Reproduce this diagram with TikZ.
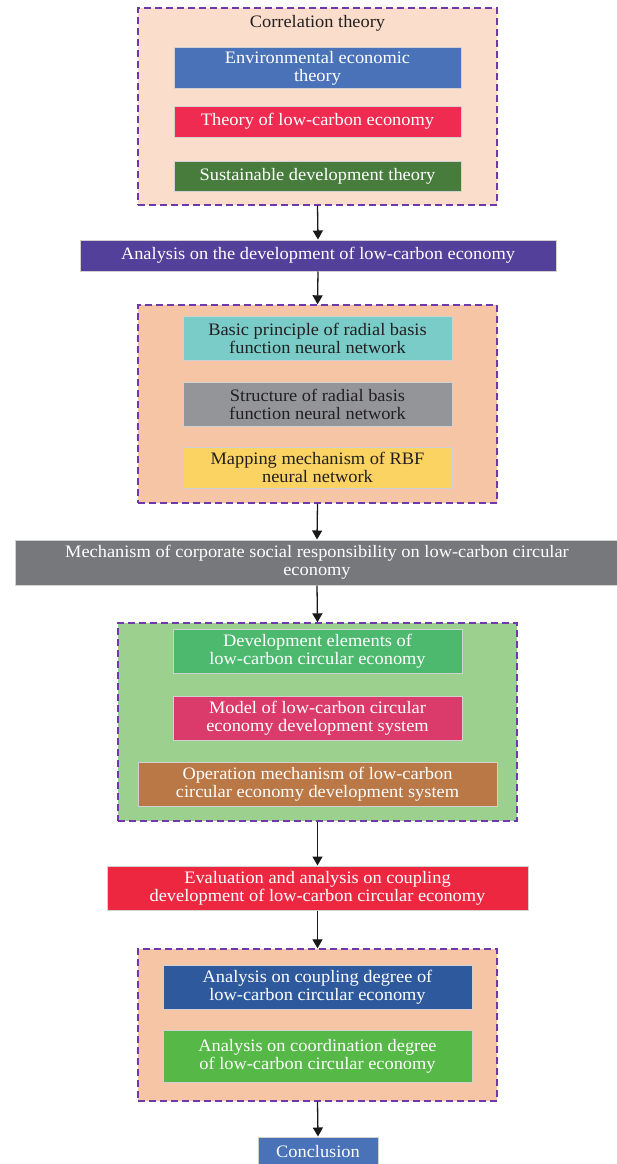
\documentclass[tikz,border=0pt]{standalone}
\usepackage{fontspec}
\setmainfont{Liberation Serif}[FakeStretch=1.05]
\usetikzlibrary{arrows.meta}
\definecolor{grpA}{RGB}{250,221,203}
\definecolor{grpB}{RGB}{246,197,165}
\definecolor{grpC}{RGB}{156,208,143}
\definecolor{dashc}{RGB}{112,56,170}
\definecolor{cBlue}{RGB}{74,114,184}
\definecolor{cRed}{RGB}{239,43,81}
\definecolor{cDGreen}{RGB}{71,124,60}
\definecolor{cPurple}{RGB}{83,64,154}
\definecolor{cCyan}{RGB}{122,204,200}
\definecolor{cGray}{RGB}{147,149,152}
\definecolor{cYellow}{RGB}{250,211,98}
\definecolor{cDGray}{RGB}{119,120,123}
\definecolor{cGreen}{RGB}{77,185,111}
\definecolor{cPink}{RGB}{219,59,106}
\definecolor{cBrown}{RGB}{186,120,71}
\definecolor{cRed2}{RGB}{238,39,65}
\definecolor{cBlue2}{RGB}{46,90,157}
\definecolor{cGreen2}{RGB}{85,184,71}
\definecolor{txtdark}{RGB}{35,31,32}
\begin{document}
\begin{tikzpicture}[x=1pt,y=-1pt,
  grp/.style={draw=dashc,line width=1.4pt,dash pattern=on 7pt off 4pt,inner sep=0pt,rectangle},
  box/.style={draw=black!18,line width=1pt,inner sep=0pt,rectangle,align=center,text=white,
    font=\fontsize{17.5}{18}\selectfont},
  dbox/.style={box,text=txtdark},
  arr/.style={line width=1.3pt,draw=black!90,-{Triangle[length=9pt,width=10pt]}}]
\useasboundingbox (0,0) rectangle (617,1164);
% group 1
\node[grp,fill=grpA,minimum width=359pt,minimum height=197pt] (g1) at (317.5,106.5) {};
\node[text=txtdark,font=\fontsize{17.5}{18}\selectfont] (t1) at (317.5,23) {Correlation theory};
\node[box,fill=cBlue,minimum width=287pt,minimum height=40pt] (b11) at (317.5,68) {Environmental economic\\theory};
\node[box,fill=cRed,minimum width=287pt,minimum height=31pt] (b12) at (317.5,121.5) {Theory of low-carbon economy};
\node[box,fill=cDGreen,minimum width=287pt,minimum height=30pt] (b13) at (317.5,176) {Sustainable development theory};
% purple
\node[box,fill=cPurple,minimum width=476pt,minimum height=31pt] (p) at (318,255.5) {Analysis on the development of low-carbon economy};
% group 2
\node[grp,fill=grpB,minimum width=359pt,minimum height=198pt] (g2) at (317.5,404) {};
\node[dbox,fill=cCyan,minimum width=269pt,minimum height=44pt] (b21) at (317.5,338) {Basic principle of radial basis\\function neural network};
\node[dbox,fill=cGray,minimum width=269pt,minimum height=44pt] (b22) at (317.5,404) {Structure of radial basis\\function neural network};
\node[dbox,fill=cYellow,minimum width=269pt,minimum height=41pt] (b23) at (317.5,467.5) {Mapping mechanism of RBF\\neural network};
% gray wide
\node[box,fill=cDGray,minimum width=604pt,minimum height=45pt] (m) at (317,562.5) {Mechanism of corporate social responsibility on low-carbon circular\\economy};
% group 3
\node[grp,fill=grpC,minimum width=399pt,minimum height=198pt] (g3) at (317.5,722) {};
\node[box,fill=cGreen,minimum width=289pt,minimum height=44pt] (b31) at (317.5,651) {Development elements of\\low-carbon circular economy};
\node[box,fill=cPink,minimum width=289pt,minimum height=44pt] (b32) at (317.5,718) {Model of low-carbon circular\\economy development system};
\node[box,fill=cBrown,minimum width=359pt,minimum height=44pt] (b33) at (317.5,784) {Operation mechanism of low-carbon\\circular economy development system};
% red
\node[box,fill=cRed2,minimum width=421pt,minimum height=44pt] (e) at (317.5,888) {Evaluation and analysis on coupling\\development of low-carbon circular economy};
% group 4
\node[grp,fill=grpB,minimum width=359pt,minimum height=152pt] (g4) at (317.5,1025) {};
\node[box,fill=cBlue2,minimum width=309pt,minimum height=44pt] (b41) at (317.5,987) {Analysis on coupling degree of\\low-carbon circular economy};
\node[box,fill=cGreen2,minimum width=309pt,minimum height=52pt] (b42) at (317.5,1056) {Analysis on coordination degree\\of low-carbon circular economy};
% conclusion
\node[box,fill=cBlue,minimum width=120pt,minimum height=28pt] (c) at (318,1151) {Conclusion};
% arrows
\draw[arr] (g1.south) -- (p.north);
\draw[arr] (p.south) -- (g2.north);
\draw[arr] (g2.south) -- (m.north);
\draw[arr] (m.south) -- (g3.north);
\draw[arr] (g3.south) -- (e.north);
\draw[arr] (e.south) -- (g4.north);
\draw[arr] (g4.south) -- (c.north);
\end{tikzpicture}
\end{document}
